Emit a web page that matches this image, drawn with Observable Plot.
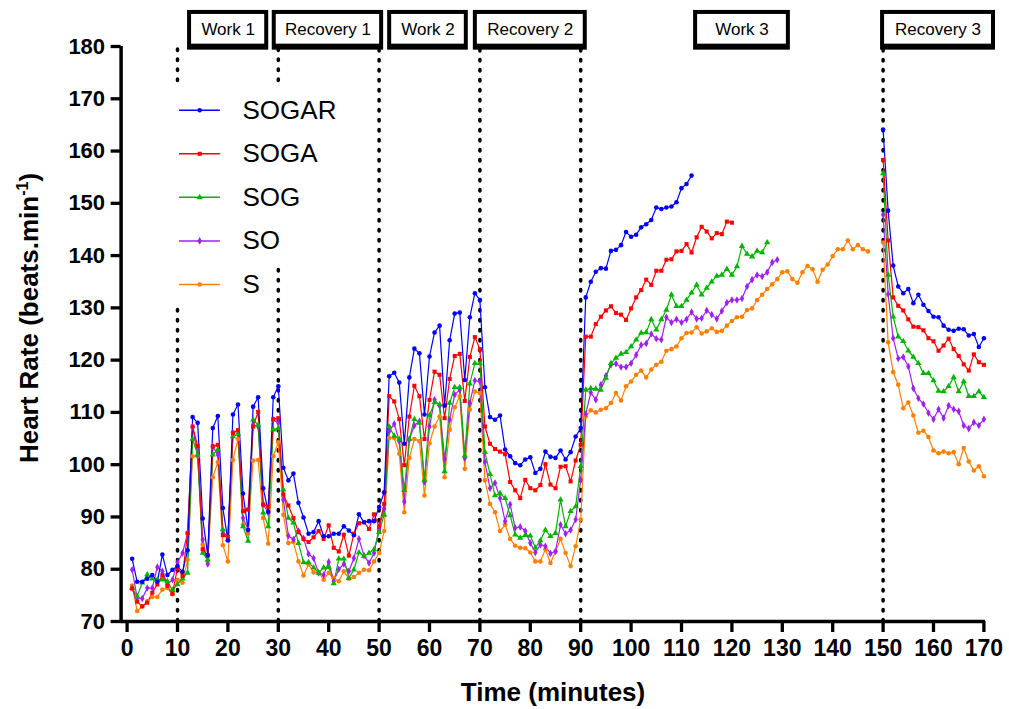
<!DOCTYPE html>
<html><head><meta charset="utf-8">
<script src="https://cdn.jsdelivr.net/npm/d3@7"></script>
<script src="https://cdn.jsdelivr.net/npm/@observablehq/plot@0.6"></script>
<style>
body{margin:0;background:#fff;}
#chart{width:1009px;height:709px;}
</style></head><body><div id="chart"></div>
<script>
// ---- Data ----
const seriesNames = ["SOGAR", "SOGA", "SOG", "SO", "S"];
const seriesColors = ["#0000ff", "#ff0000", "#00b400", "#a020f0", "#ff8000"];
const seriesSymbols = ["circle", "square", "triangle", "diamond", "circle"];
const firstMinute = 1;        // first sample of work/recovery 1-2 + work 3
const recovery3Minute = 150;  // first sample of recovery 3

const sogarMain = [82.0,77.6,77.6,78.2,78.9,77.6,82.8,78.9,79.9,80.6,79.5,83.6,109.1,108.0,89.7,82.7,107.0,109.3,91.7,85.5,
  109.6,111.5,94.5,87.5,111.1,112.9,95.5,91.0,112.9,115.0,99.4,97.0,98.3,92.7,89.9,86.8,87.1,89.2,86.3,86.3,
  86.8,86.8,88.2,87.4,86.5,90.5,89.0,89.2,89.2,91.9,94.7,116.9,117.6,115.7,104.0,116.7,122.2,121.3,109.6,120.7,
  125.3,126.6,111.3,123.8,128.9,129.1,116.2,128.2,132.8,131.5,114.8,109.1,108.6,109.4,102.9,101.6,100.3,99.9,101.0,101.4,
  98.4,99.2,102.5,101.5,101.3,102.7,101.0,102.4,105.4,107.0,132.0,135.0,136.9,137.6,137.5,140.9,141.1,142.0,144.5,143.6,
  144.0,145.4,146.0,146.8,149.2,148.9,149.2,149.4,150.2,152.9,153.7,155.3];
const sogarRec3 = [164.1,148.6,138.1,134.1,132.8,133.6,130.9,132.5,130.6,129.4,128.3,128.2,126.6,125.8,125.6,126.0,125.9,124.7,125.0,122.5,124.2];

const sogaMain = [76.3,73.8,72.9,73.6,75.5,77.1,78.9,76.8,75.3,80.3,78.7,86.9,107.3,103.6,83.8,82.6,103.5,103.8,86.5,86.2,
  106.1,106.6,91.1,91.4,107.3,110.1,92.4,92.0,108.7,108.9,94.3,92.2,89.8,87.1,85.8,85.2,86.1,87.3,85.8,88.4,
  84.1,83.4,86.6,82.6,86.8,88.8,89.0,87.7,90.5,88.2,92.5,113.1,112.1,108.7,99.9,109.2,115.1,113.1,104.9,112.4,
  117.8,117.2,108.9,116.4,120.8,121.2,112.2,120.6,124.4,122.1,107.3,104.0,103.0,102.5,102.0,96.7,95.1,93.6,97.1,95.5,
  95.1,96.1,100.1,96.2,95.5,99.6,99.7,96.8,100.8,103.8,124.5,124.5,126.9,128.3,129.5,130.3,129.0,128.7,127.7,129.9,
  132.0,133.4,135.4,134.4,137.1,137.1,139.2,139.3,140.8,140.9,142.2,140.6,143.5,145.5,144.6,143.3,144.3,144.1,146.5,146.3];
const sogaRec3 = [158.3,142.9,132.0,130.4,129.5,127.8,126.4,126.3,125.7,124.2,123.6,121.8,122.8,124.1,122.1,120.8,119.2,118.0,121.1,119.6,119.1];

const sogMain = [76.4,74.8,77.4,79.0,78.2,78.0,78.0,77.7,76.0,77.1,78.2,79.3,104.9,101.9,83.1,81.8,101.9,102.9,87.6,85.7,
  105.4,105.9,88.2,85.4,108.6,107.6,90.8,88.2,106.7,107.0,95.2,89.8,88.9,85.0,81.3,81.3,80.3,79.3,80.3,80.4,
  77.3,82.0,82.0,78.3,79.9,83.2,82.5,83.1,83.8,87.1,90.4,107.3,105.5,104.9,95.1,104.9,108.7,108.0,97.1,109.4,
  111.9,111.5,98.7,111.8,114.8,114.8,101.7,115.5,119.4,119.4,102.4,98.2,94.1,94.5,93.6,90.3,86.6,86.0,86.5,86.4,
  84.1,85.5,87.5,86.3,86.9,93.3,88.2,91.1,92.0,99.7,114.3,114.6,114.5,114.3,116.6,119.4,120.4,121.2,121.5,122.6,
  123.9,125.2,125.3,127.8,125.8,127.8,129.6,132.5,130.3,130.3,131.5,132.9,134.4,132.5,133.8,135.0,136.1,136.3,137.4,136.3,
  137.9,141.8,140.3,139.8,140.9,140.6,142.5];
const sogRec3 = [155.7,136.3,128.3,124.5,123.6,121.8,120.6,119.4,117.5,117.5,116.1,114.1,114.0,115.0,116.7,114.0,115.9,113.1,113.1,114.0,112.9];

const soMain = [79.9,74.5,74.4,76.4,76.4,80.4,79.6,77.1,78.0,81.3,83.1,86.9,107.2,101.9,85.7,81.0,103.5,101.9,86.9,85.9,
  106.1,106.4,89.8,87.6,107.6,107.3,92.4,90.8,108.6,108.0,93.3,86.4,85.7,87.3,85.9,82.9,82.1,79.3,78.9,81.4,
  77.7,80.0,81.0,79.6,82.1,85.8,82.6,81.2,83.1,87.8,91.6,106.4,107.8,104.5,92.9,104.8,107.5,108.3,96.7,107.3,
  112.4,111.3,101.1,108.6,113.4,114.3,101.3,111.8,116.1,115.9,100.5,95.5,96.5,93.6,89.2,92.4,87.9,88.1,87.3,85.0,
  83.2,84.7,84.4,83.0,83.4,88.5,86.8,87.5,89.5,97.1,109.7,113.8,112.4,115.3,117.0,119.1,119.3,118.7,118.7,119.4,
  121.0,122.9,123.2,125.0,124.1,123.9,128.2,127.2,127.8,127.2,127.8,129.2,127.9,128.0,129.5,128.7,127.9,129.4,131.0,131.5,
  131.5,131.8,134.1,135.4,136.3,136.0,136.8,138.7,139.2];
const soRec3 = [147.8,132.6,124.2,120.3,120.6,118.8,114.6,112.7,111.6,109.9,108.7,110.6,108.9,111.3,110.6,110.2,107.5,106.9,108.1,107.5,108.7];

const sMain = [76.9,72.0,72.9,73.9,74.7,74.7,76.1,76.4,75.2,77.9,77.4,81.8,101.6,101.6,84.7,81.5,97.6,100.5,84.6,81.5,
  100.9,104.9,88.5,86.8,100.8,100.9,89.8,84.9,101.6,104.3,90.4,85.0,85.2,81.5,78.8,80.9,79.4,79.4,78.0,79.3,
  78.3,77.7,79.6,78.2,78.5,79.3,79.9,79.8,81.5,83.1,87.3,105.1,105.1,102.1,90.9,101.3,104.9,104.5,94.1,104.1,
  107.3,109.2,97.6,106.7,111.0,113.1,99.2,110.5,114.0,113.7,97.0,92.5,90.9,87.3,88.5,85.8,84.5,84.1,84.0,83.2,
  81.5,81.5,83.8,81.2,83.4,85.8,83.1,80.6,84.4,89.5,109.2,110.4,110.0,110.5,110.8,111.8,113.7,112.3,115.0,115.9,
  117.2,118.0,116.7,118.2,119.1,119.7,121.8,122.1,122.6,124.2,125.2,125.3,126.3,125.1,125.5,126.1,125.4,125.6,126.6,127.5,
  128.2,128.3,129.6,129.9,131.5,132.5,133.6,134.5,135.5,136.8,137.0,135.5,134.8,136.8,138.0,137.4,135.0,137.3,138.3,139.9,
  141.2,141.2,142.9,141.2,142.0,141.2,140.8];
const sRec3 = [142.5,123.4,117.7,115.3,110.8,111.9,109.4,106.1,106.5,105.3,102.7,102.2,102.5,102.2,102.4,100.1,103.2,100.6,98.9,99.7,97.8];

const phaseBoundaries = [10, 30, 50, 70, 90, 150];
const phaseLabels = ["Work 1", "Recovery 1", "Work 2", "Recovery 2", "Work 3", "Recovery 3"];
const xTicks = [0,10,20,30,40,50,60,70,80,90,100,110,120,130,140,150,160,170];
const yTicks = [70,80,90,100,110,120,130,140,150,160,170,180];
const xTitle = "Time (minutes)";

// ---- Build table ----
const mainArrays = [sogarMain, sogaMain, sogMain, soMain, sMain];
const rec3Arrays = [sogarRec3, sogaRec3, sogRec3, soRec3, sRec3];
const rows = [];
for (let k = seriesNames.length - 1; k >= 0; k--) {
  mainArrays[k].forEach((v, i) => rows.push({series: seriesNames[k], minute: firstMinute + i, hr: v, seg: "a"}));
  rec3Arrays[k].forEach((v, i) => rows.push({series: seriesNames[k], minute: recovery3Minute + i, hr: v, seg: "b"}));
}

// ---- layout (not data) ----
const boxLayout = [ // label box extents in minutes
  [12.0, 28.1], [28.8, 50.9], [51.7, 67.7], [68.7, 91.3], [112.4, 131.6], [149.5, 172.3]
];
const boxes = phaseLabels.map((label, i) => ({label, x1: boxLayout[i][0], x2: boxLayout[i][1]}));
const dotted = [];
phaseBoundaries.forEach(b => {
  if (b === 10) { dotted.push({x: b, y1: 70, y2: 129.6}, {x: b, y1: 173.4, y2: 180}); }
  else if (b === 30) { dotted.push({x: b, y1: 70, y2: 138.2}, {x: b, y1: 173.4, y2: 180}); }
  else dotted.push({x: b, y1: 70, y2: 180});
});
const legendRows = seriesNames.map((s, i) => ({series: s, ly: 167.8 - i * 8.33}));

const font = "'Liberation Sans', Arial, Helvetica, sans-serif";

const chart = Plot.plot({
  width: 1009, height: 709,
  marginLeft: 126.6, marginRight: 25.6, marginTop: 46, marginBottom: 88,
  style: {fontFamily: font, background: "white", overflow: "visible"},
  x: {domain: [0, 170], axis: null},
  y: {domain: [70, 180], axis: null},
  color: {domain: seriesNames, range: seriesColors},
  symbol: {domain: seriesNames, range: seriesSymbols},
  marks: [
    // dotted phase boundaries
    Plot.ruleX(dotted, {x: "x", y1: "y1", y2: "y2", stroke: "black", strokeWidth: 3.5, strokeDasharray: "1.5,8.5", strokeLinecap: "round"}),
    // series
    Plot.line(rows, {x: "minute", y: "hr", z: d => d.series + d.seg, stroke: "series", strokeWidth: 1.2}),
    Plot.dot(rows, {x: "minute", y: "hr", fill: "series", symbol: "series", r: 2.3, stroke: "none"}),
    // axes
    Plot.axisY({ticks: yTicks, tickSize: 10, tickPadding: 6, dx: -6, fontSize: 22, fontWeight: "bold", strokeWidth: 3.3, label: null, tickFormat: d => d}),
    Plot.axisX({ticks: xTicks, tickSize: 11, tickPadding: 7, fontSize: 23, fontWeight: "bold", strokeWidth: 3.3, label: null, tickFormat: d => d}),
    Plot.ruleX([0], {y1: 70, y2: 180, dx: -6, stroke: "black", strokeWidth: 3.5}),
    Plot.ruleY([70], {x1: -1.25, x2: 170.3, stroke: "black", strokeWidth: 3.5}),
    // legend
    Plot.ruleY(legendRows, {y: "ly", x1: 10.4, x2: 18.5, stroke: "series", strokeWidth: 1.5}),
    Plot.dot(legendRows, {x: 14.4, y: "ly", fill: "series", symbol: "series", r: 2.3}),
    Plot.text(legendRows, {x: 22.9, y: "ly", text: "series", textAnchor: "start", fontSize: 26, fill: "black"}),
    // phase label boxes
    Plot.rect(boxes, {x1: "x1", x2: "x2", y1: 179.3, y2: 186.9, fill: "black"}),
    Plot.rect(boxes, {x1: "x1", x2: "x2", y1: 179.3, y2: 186.9, fill: "white", insetTop: 4, insetLeft: 4, insetRight: 4, insetBottom: 6}),
    Plot.text(boxes, {x: d => (d.x1 + d.x2) / 2, y: 183.3, text: "label", fontSize: 17, fill: "black"})
  ]
});

document.getElementById("chart").appendChild(chart);

// axis titles (with superscript)
const svg = d3.select(chart);
const yt = svg.append("text")
  .attr("transform", "translate(38,318) rotate(-90)")
  .attr("text-anchor", "middle")
  .attr("font-family", font).attr("font-weight", "bold").attr("font-size", 26).attr("fill", "black");
yt.append("tspan").text("Heart Rate (beats.min");
yt.append("tspan").attr("font-size", 16).attr("dy", -10).text("-1");
yt.append("tspan").attr("dy", 10).text(")");
svg.append("text")
  .attr("x", 553).attr("y", 701)
  .attr("text-anchor", "middle")
  .attr("font-family", font).attr("font-weight", "bold").attr("font-size", 26).attr("fill", "black")
  .text(xTitle);
</script>
</body></html>
